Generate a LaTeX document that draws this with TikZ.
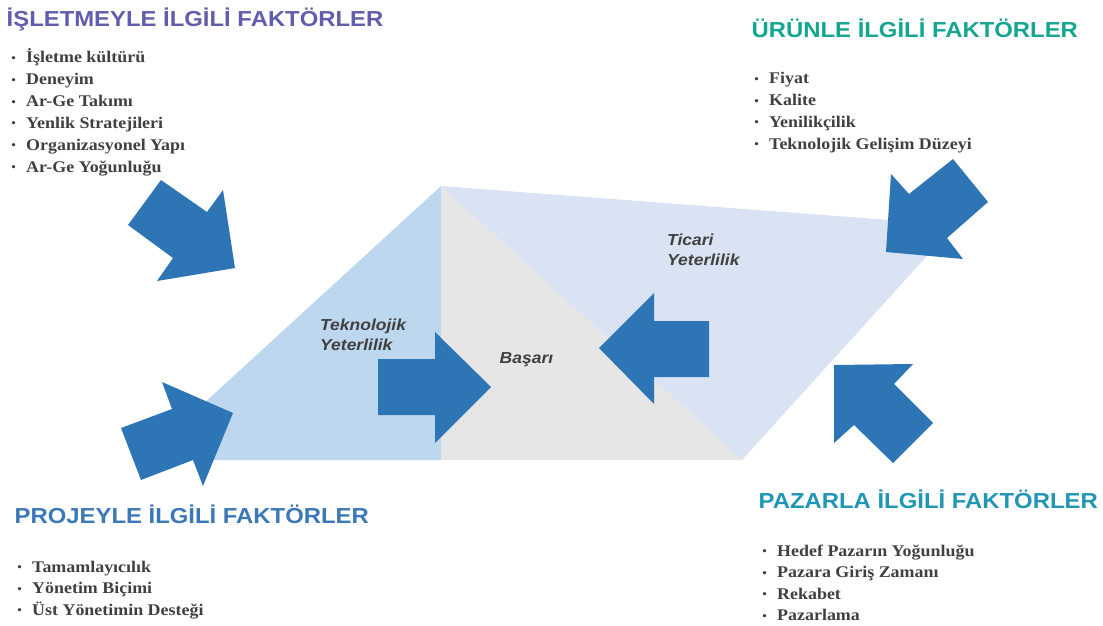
\documentclass[tikz,border=0pt]{standalone}
\usepackage{fontspec}
\setmainfont{Liberation Serif}
\newfontfamily\hfont[FakeStretch=1.1]{Liberation Sans}
\newfontfamily\lfont[FakeStretch=1.1]{Liberation Serif}
\definecolor{hpurple}{RGB}{96,94,172}
\definecolor{hteal}{RGB}{20,166,144}
\definecolor{hblue}{RGB}{58,120,184}
\definecolor{hcyan}{RGB}{33,150,180}
\definecolor{txtgray}{RGB}{64,64,64}
\definecolor{arrblue}{RGB}{46,117,182}
\definecolor{lblue}{RGB}{189,215,238}
\definecolor{lgray}{RGB}{230,230,230}
\definecolor{pblue}{RGB}{218,227,243}
\newcommand{\bul}{\makebox[15pt][l]{\mdseries\raisebox{0.5pt}{\fontsize{13}{13}\selectfont•}}}
\begin{document}
\begin{tikzpicture}[x=1pt,y=-1pt,
  heading/.style={anchor=base west,inner sep=0pt,font=\hfont\bfseries\fontsize{21.7}{25}\selectfont},
  item/.style={anchor=base west,inner sep=0pt,text=txtgray,font=\lfont\bfseries\fontsize{16.3}{20}\selectfont},
  lbl/.style={anchor=base west,inner sep=0pt,text=txtgray,align=left,font=\hfont\bfseries\itshape\fontsize{15.9}{20}\selectfont},
  arr/.style={fill=arrblue}]
\useasboundingbox (0,0) rectangle (1103,626);
% background shapes
\fill[lblue] (441,186) -- (142,460) -- (441,460) -- cycle;
\fill[lgray] (441,186) -- (441,460) -- (742,460) -- cycle;
\fill[pblue] (441,186) -- (955,225) -- (742,460) -- cycle;
% arrows
\fill[arr] (161,180) -- (207,212) -- (223,190) -- (235,268) -- (157,281) -- (173,258) -- (128,225) -- cycle;
\fill[arr] (121,428) -- (172,409) -- (162,382) -- (233,413) -- (203,486) -- (193,460) -- (141,480) -- cycle;
\fill[arr] (378,359) -- (435,359) -- (435,332) -- (491,387) -- (435,443) -- (435,415) -- (378,415) -- cycle;
\fill[arr] (709,321) -- (654,321) -- (654,293) -- (599,348) -- (654,404) -- (654,377) -- (709,377) -- cycle;
\fill[arr] (953,159) -- (988,202) -- (947,238) -- (963,259) -- (886,252) -- (891,174) -- (909,194) -- cycle;
\fill[arr] (834,365) -- (913,364) -- (894,384) -- (933,423) -- (893,463) -- (854,425) -- (834,443) -- cycle;
% inner labels
\node[lbl] (tek1) at (320,330) {Teknolojik};
\node[lbl] (tek2) at (320,350) {Yeterlilik};
\node[lbl] (bas) at (499.5,363) {Başarı};
\node[lbl] (tic1) at (667,245) {Ticari};
\node[lbl] (tic2) at (667,265) {Yeterlilik};
% headings
\node[heading,text=hpurple] (h1) at (6.5,26.5) {İŞLETMEYLE İLGİLİ FAKTÖRLER};
\node[heading,text=hteal] (h2) at (751.5,38) {ÜRÜNLE İLGİLİ FAKTÖRLER};
\node[heading,text=hblue] (h3) at (14.5,523) {PROJEYLE İLGİLİ FAKTÖRLER};
\node[heading,text=hcyan] (h4) at (758.5,508) {PAZARLA İLGİLİ FAKTÖRLER};
% lists
\foreach \t [count=\i] in {İşletme kültürü, Deneyim, Ar-Ge Takımı, Yenlik Stratejileri, Organizasyonel Yapı, Ar-Ge Yoğunluğu}
  \node[item] (a\i) at (11,{63+21.8*(\i-1)}) {\bul\t};
\foreach \t [count=\i] in {Fiyat, Kalite, Yenilikçilik, Teknolojik Gelişim Düzeyi}
  \node[item] (b\i) at (754,{84+21.7*(\i-1)}) {\bul\t};
\foreach \t [count=\i] in {Tamamlayıcılık, Yönetim Biçimi, Üst Yönetimin Desteği}
  \node[item] (c\i) at (17,{572+21.5*(\i-1)}) {\bul\t};
\foreach \t [count=\i] in {Hedef Pazarın Yoğunluğu, Pazara Giriş Zamanı, Rekabet, Pazarlama}
  \node[item] (d\i) at (762,{556+21.5*(\i-1)}) {\bul\t};
\end{tikzpicture}
\end{document}
